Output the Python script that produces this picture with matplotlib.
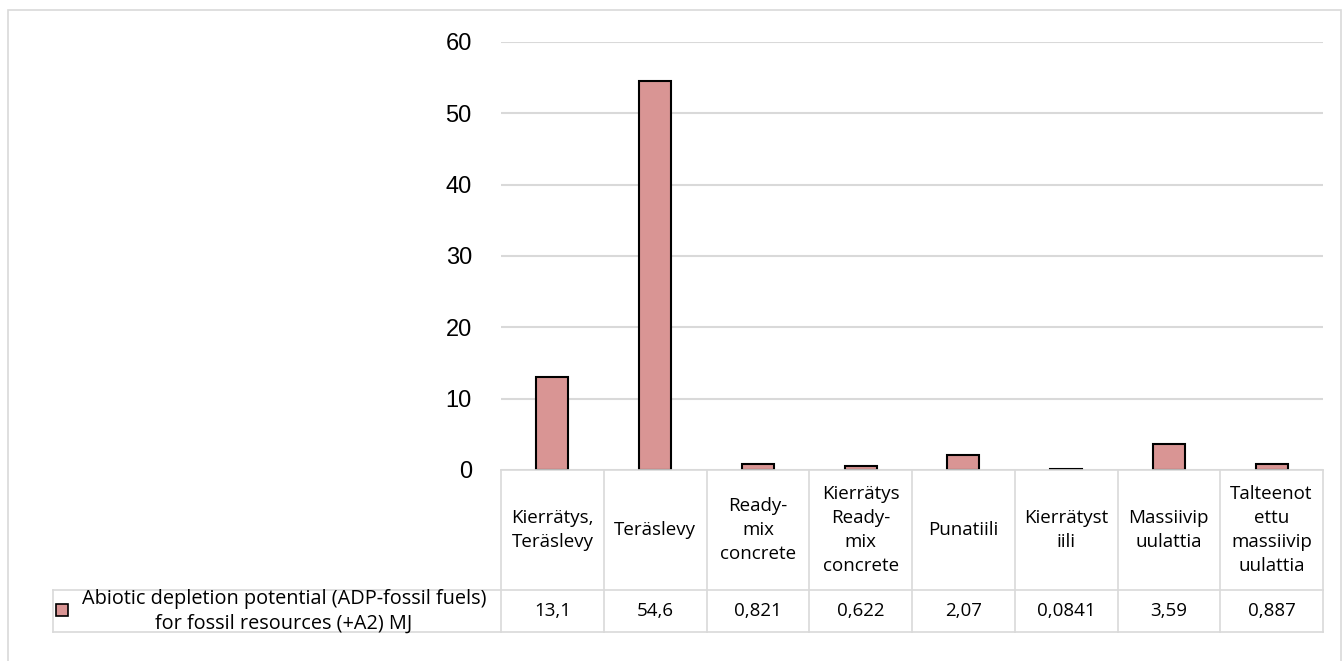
import matplotlib
matplotlib.use("Agg")
import matplotlib.pyplot as plt
from matplotlib.transforms import blended_transform_factory
from matplotlib.patches import Rectangle
from matplotlib.lines import Line2D

# data
categories = ["Kierrätys,\nTeräslevy", "Teräslevy", "Ready-\nmix\nconcrete",
              "Kierrätys\nReady-\nmix\nconcrete", "Punatiili", "Kierrätyst\niili",
              "Massiivip\nuulattia", "Talteenot\nettu\nmassiivip\nuulattia"]
values = [13.1, 54.6, 0.821, 0.622, 2.07, 0.0841, 3.59, 0.887]
series_name = "Abiotic depletion potential (ADP-fossil fuels)\nfor fossil resources (+A2) MJ"
yticks = [0, 10, 20, 30, 40, 50, 60]

W, H = 1342, 661
bar_color = "#d99594"
grid_color = "#d9d9d9"
table_font = "Open Sans"
table_size = 13.5

fig = plt.figure(figsize=(W / 100, H / 100), dpi=100)

def fy(y):
    return 1 - y / H

# outer chart border
fig.patches.append(Rectangle((8 / W, fy(H + 5)), (W - 9) / W, (H + 5 - 10) / H,
                             transform=fig.transFigure, fill=False,
                             edgecolor=grid_color, lw=1.2))

ax = fig.add_axes([501 / W, fy(470), 822 / W, (470 - 42) / H])
x = list(range(len(categories)))
ax.bar(x, values, width=0.31, color=bar_color, edgecolor="black", linewidth=1.5, zorder=3)
ax.set_xlim(-0.5, len(categories) - 0.5)
ax.set_ylim(0, 60)
ax.set_yticks(yticks)
ax.set_xticks([])
ax.yaxis.grid(True, color=grid_color, lw=1.5)
ax.set_axisbelow(True)
for s in ax.spines.values():
    s.set_visible(False)
ax.tick_params(axis="y", length=0, pad=21, labelsize=17)
for lbl in ax.get_yticklabels():
    lbl.set_fontfamily("Liberation Sans")

# data table below the axes
tr = blended_transform_factory(ax.transData, fig.transFigure)
n = len(categories)
top, mid, bot = 470, 590, 632
lw = 1.2
# horizontal lines
fig.lines.append(Line2D([-0.5, n - 0.5], [fy(top)] * 2, transform=tr, color=grid_color, lw=lw))
xa = ax.transData.transform((n - 0.5, 0))[0] / W
for y in (mid, bot):
    fig.lines.append(Line2D([53 / W, xa], [fy(y)] * 2, transform=fig.transFigure,
                            color=grid_color, lw=lw))
# vertical lines
for i in range(n + 1):
    fig.lines.append(Line2D([i - 0.5] * 2, [fy(top), fy(bot)], transform=tr, color=grid_color, lw=lw))
fig.lines.append(Line2D([53 / W] * 2, [fy(mid), fy(bot)], transform=fig.transFigure,
                        color=grid_color, lw=lw))

for i, (cat, v) in enumerate(zip(categories, values)):
    fig.text(i, fy((top + mid) / 2), cat, transform=tr, ha="center", va="center",
             fontsize=table_size, family=table_font, linespacing=1.42)
    fig.text(i, fy((mid + bot) / 2), str(v).replace(".", ","), transform=tr,
             ha="center", va="center", fontsize=table_size, family=table_font)

# legend key and series name
fig.patches.append(Rectangle((56 / W, fy(616)), 12 / W, 12 / H, transform=fig.transFigure,
                             facecolor=bar_color, edgecolor="black", lw=1.2))
fig.text(284 / W, fy((mid + bot) / 2), series_name, ha="center", va="center",
         fontsize=14.3, family=table_font, linespacing=1.3)

fig.savefig("out.png", dpi=100)
